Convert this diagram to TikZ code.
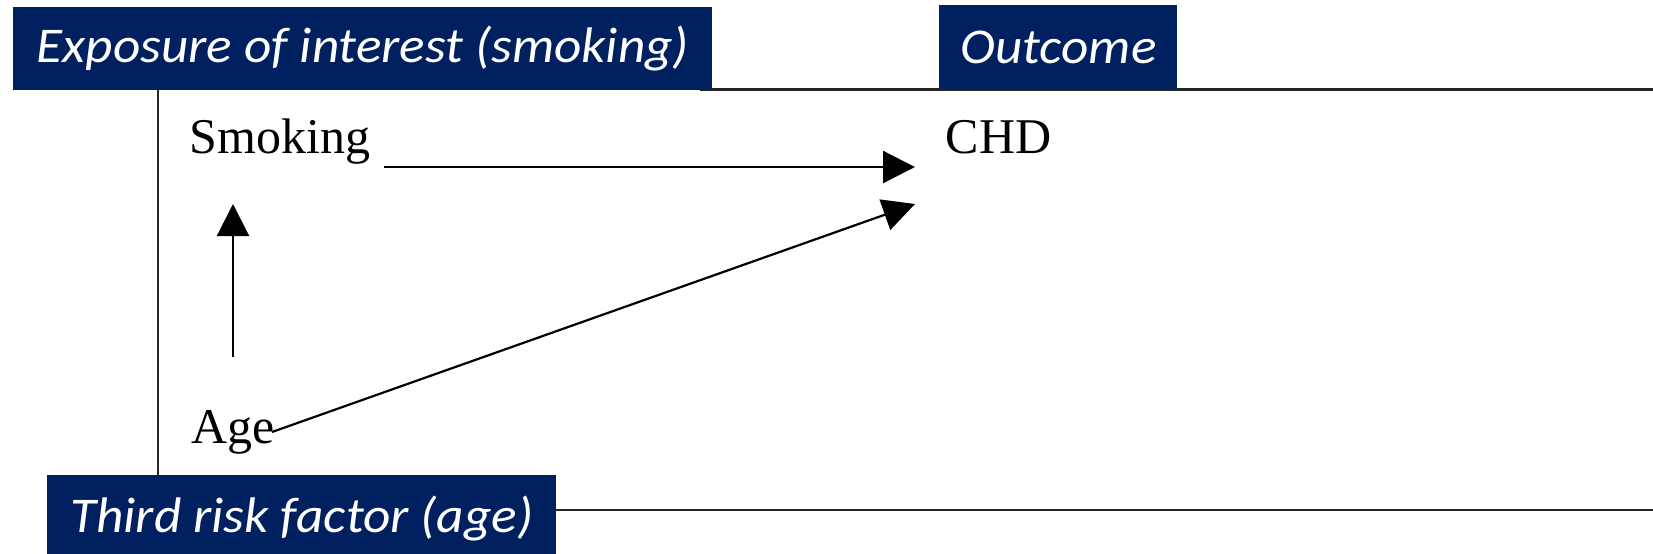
\documentclass[tikz,border=0pt]{standalone}
\usepackage{fontspec}
\setmainfont{Liberation Serif}
\newfontfamily\bannerfont{Carlito}
\usetikzlibrary{arrows.meta}
\definecolor{navy}{HTML}{002060}
% horizontally widened banner text
\newcommand{\bannertext}[1]{\scalebox{1.065}[1]{#1}}
\begin{document}
\begin{tikzpicture}[x=0.5pt,y=-0.5pt,
  banner/.style={fill=navy, text=white, inner sep=0pt, anchor=north west,
    font=\bannerfont\itshape\fontsize{25}{30}\selectfont},
  term/.style={inner sep=0pt, anchor=base west, font=\fontsize{25}{30}\selectfont},
  frameline/.style={line width=1.1pt, draw=black!85},
  arr/.style={line width=1.1pt, -{Triangle[length=16pt,width=16pt]}}]
\useasboundingbox (0,0) rectangle (1653,553);

% frame lines of the diagram panel
\draw[frameline] (158,90) -- (158,475);
\draw[frameline] (700,89.5) -- (1653,89.5);
\draw[frameline] (540,510) -- (1653,510);

% banner labels
\node[banner, minimum width=349.5pt, minimum height=41.5pt] (expo) at (13,7) {\bannertext{Exposure of interest (smoking)}};
\node[banner, minimum width=119pt, minimum height=42pt] (outc) at (939,5) {\bannertext{Outcome}};
\node[banner, minimum width=254.5pt, minimum height=43.5pt] (third) at (47,475) {\bannertext{Third risk factor (age)}};

% variables
\node[term] (smk) at (189,153) {Smoking};
\node[term] (chd) at (945.5,153) {CHD};
\node[term] (age) at (191,443) {Age};

% causal arrows
\draw[arr] ([shift={(195,14)}]smk.base west) -- ([shift={(-30.5,14)}]chd.base west);
\draw[arr] ([shift={(42,-86)}]age.base west) -- ([shift={(44,51)}]smk.base west);
\draw[arr] ([shift={(81,-11)}]age.base west) -- ([shift={(-30.5,51)}]chd.base west);
\end{tikzpicture}
\end{document}
